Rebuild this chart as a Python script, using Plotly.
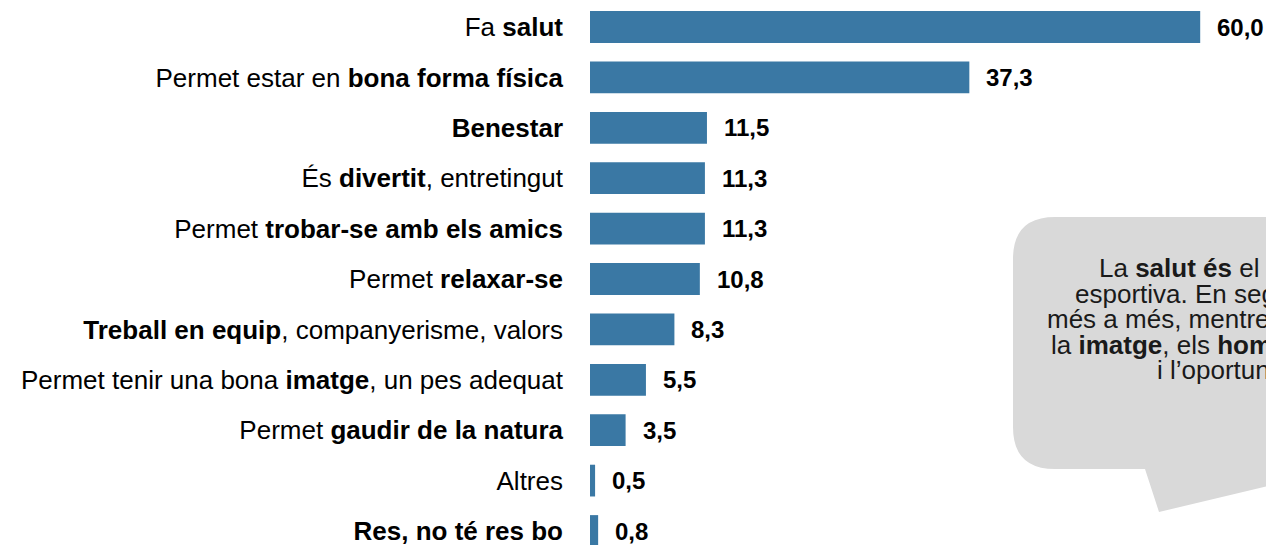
import plotly.graph_objects as go

categories = [
    "Fa <b>salut</b>",
    "Permet estar en <b>bona forma física</b>",
    "<b>Benestar</b>",
    "És <b>divertit</b>, entretingut",
    "Permet <b>trobar-se amb els amics</b>",
    "Permet <b>relaxar-se</b>",
    "<b>Treball en equip</b>, companyerisme, valors",
    "Permet tenir una bona <b>imatge</b>, un pes adequat",
    "Permet <b>gaudir de la natura</b>",
    "Altres",
    "<b>Res, no té res bo</b>",
]
values = [60.0, 37.3, 11.5, 11.3, 11.3, 10.8, 8.3, 5.5, 3.5, 0.5, 0.8]
value_labels = [f"{v:.1f}".replace(".", ",") for v in values]

callout_lines = [
    "La <b>salut és</b> el principal motiu de la pràctica",
    "esportiva. En segon lloc, la bona forma física;",
    "més a més, mentre que les dones valoren més",
    "la <b>imatge</b>, els <b>homes</b> valoren més el companyerisme",
    "i l’oportunitat de trobar-se amb els amics.",
]

W, H = 1266, 545
ML, MR, MT, MB = 590, 0, 0, 0
PW = W - ML - MR


def px(x):  # screen pixel -> paper x
    return (x - ML) / PW


def py(y):  # screen pixel -> paper y
    return 1 - y / H


BAR = "#3a78a4"
FONT = "Liberation Sans, Arial, sans-serif"
idx = list(range(len(categories)))

fig = go.Figure()
fig.add_trace(go.Bar(
    y=idx, x=values, orientation="h",
    marker=dict(color=BAR, line=dict(width=0)),
    width=0.63, hoverinfo="skip",
))

annotations = []
for i, (v, t) in enumerate(zip(values, value_labels)):
    annotations.append(dict(
        x=v, y=i, xref="x", yref="y", text=f"<b>{t}</b>", showarrow=False,
        xanchor="left", yanchor="middle", xshift=15,
        font=dict(family=FONT, size=24, color="#000000"),
    ))

# callout bubble (decoration)
x0, x1, y0, y1, r = 1013, 1420, 217, 469, 42
path = (
    f"M {px(x0 + r)} {py(y0)} L {px(x1 - r)} {py(y0)} "
    f"Q {px(x1)} {py(y0)} {px(x1)} {py(y0 + r)} "
    f"L {px(x1)} {py(y1 - r)} Q {px(x1)} {py(y1)} {px(x1 - r)} {py(y1)} "
    f"L {px(1420)} {py(y1)} L {px(1420)} {py(450)} L {px(1159)} {py(512)} L {px(1145)} {py(y1)} "
    f"L {px(x0 + r)} {py(y1)} Q {px(x0)} {py(y1)} {px(x0)} {py(y1 - r)} "
    f"L {px(x0)} {py(y0 + r)} Q {px(x0)} {py(y0)} {px(x0 + r)} {py(y0)} Z"
)
shapes = [dict(type="path", xref="paper", yref="paper", path=path,
               fillcolor="#d9d9d9", line=dict(width=0), layer="below")]

starts = [1097, 1073, 1045, 1049, 1155]
ys = [268, 294, 319, 345, 370]
for s, yy, line in zip(starts, ys, callout_lines):
    annotations.append(dict(
        x=px(s), y=py(yy), xref="paper", yref="paper", text=line,
        showarrow=False, xanchor="left", yanchor="middle",
        font=dict(family=FONT, size=26, color="#1a1a1a"),
    ))

row = 50.4
first, last = 27, 531
top = 0 - first / row
bottom = 10 + (H - last) / row

fig.update_layout(
    width=W, height=H,
    margin=dict(l=ML, r=MR, t=MT, b=MB, autoexpand=False),
    paper_bgcolor="white", plot_bgcolor="white",
    showlegend=False,
    xaxis=dict(range=[0, PW / 10.17], visible=False, fixedrange=True),
    yaxis=dict(
        range=[bottom, top], tickvals=idx, ticktext=categories,
        showgrid=False, zeroline=False, showline=False, ticks="",
        ticklabelstandoff=26, automargin=False, ticklabeloverflow="allow",
        tickfont=dict(family=FONT, size=26, color="#000000"),
        fixedrange=True,
    ),
    annotations=annotations, shapes=shapes,
)

fig.write_html(
    "out.html",
    config={"displayModeBar": False, "staticPlot": True},
    post_script="document.body.style.margin='0';document.body.style.overflow='hidden';",
)
